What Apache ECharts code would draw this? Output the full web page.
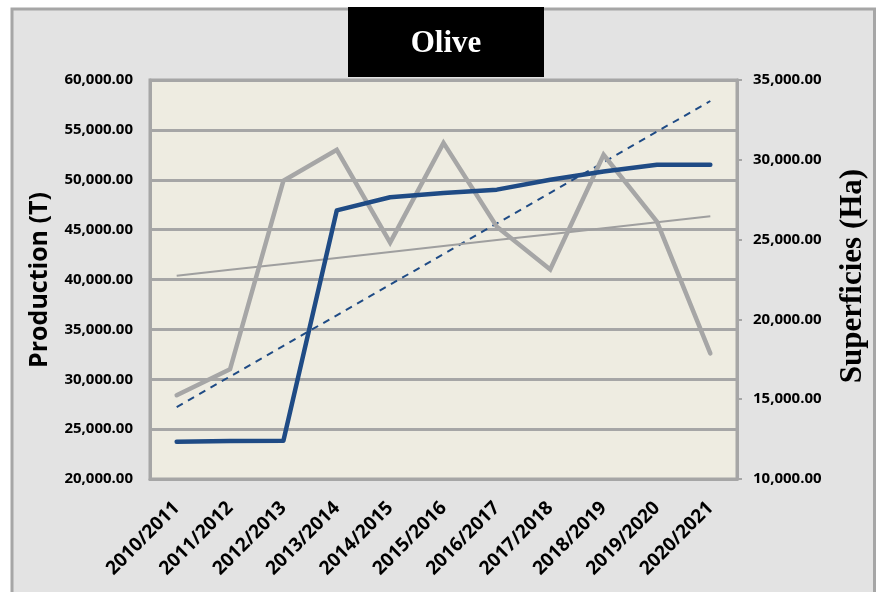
<!DOCTYPE html>
<html>
<head>
<meta charset="utf-8">
<script src="https://cdn.jsdelivr.net/npm/echarts@6/dist/echarts.min.js"></script>
<style>
  html, body { margin: 0; padding: 0; background: #ffffff; }
  #chart { width: 876px; height: 592px; }
</style>
</head>
<body>
<div id="chart"></div>
<script>
// Olive: production (tonnes, left axis) and planted area (hectares, right axis)
const seasons = ['2010/2011', '2011/2012', '2012/2013', '2013/2014', '2014/2015', '2015/2016',
                 '2016/2017', '2017/2018', '2018/2019', '2019/2020', '2020/2021'];
const production = [28400, 31000, 49900, 53000, 43700, 53700, 45300, 41000, 52500, 45800, 32600];
const superficies = [12330, 12380, 12400, 26830, 27650, 27920, 28130, 28750, 29270, 29690, 29690];

const leftTicks = { min: 20000, max: 60000, step: 5000 };
const rightTicks = { min: 10000, max: 35000, step: 5000 };

// Least-squares linear trend evaluated at each season index
function linearTrend(values) {
  const n = values.length;
  const mx = (n - 1) / 2;
  const my = values.reduce((a, b) => a + b, 0) / n;
  let sxy = 0, sxx = 0;
  values.forEach((v, i) => { sxy += (i - mx) * (v - my); sxx += (i - mx) * (i - mx); });
  const slope = sxy / sxx;
  return values.map((_, i) => my + slope * (i - mx));
}

function fmt(v) {
  const s = Math.round(v).toString().replace(/\B(?=(\d{3})+(?!\d))/g, ',');
  return s + '.00';
}

const chart = echarts.init(document.getElementById('chart'), null, { renderer: 'canvas' });

const GRAY = '#a6a6a6';
const BLUE = '#1f4b85';
const sans = '"Open Sans", "Noto Sans", sans-serif';
const serif = '"Liberation Serif", "DejaVu Serif", serif';

chart.setOption({
  animation: false,
  backgroundColor: '#ffffff',
  graphic: [
    {
      type: 'rect', z: -10, silent: true,
      shape: { x: 12, y: 9, width: 862.5, height: 620 },
      style: { fill: '#e3e3e3', stroke: '#a6a6a6', lineWidth: 3 }
    },
    {
      type: 'rect', z: 100, silent: true,
      shape: { x: 348, y: 7, width: 196, height: 70 },
      style: { fill: '#000000' }
    },
    {
      type: 'text', z: 101, silent: true,
      x: 446, y: 44,
      style: {
        text: 'Olive', fill: '#ffffff', font: 'bold 31px ' + serif,
        align: 'center', verticalAlign: 'middle'
      }
    },
    {
      type: 'text', z: 101, silent: true,
      x: 40, y: 280, rotation: Math.PI / 2,
      style: {
        text: 'Production (T)', fill: '#000000', font: 'bold 25px ' + sans,
        align: 'center', verticalAlign: 'middle'
      }
    },
    {
      type: 'text', z: 101, silent: true,
      x: 853, y: 276, rotation: Math.PI / 2,
      style: {
        text: 'Superficies (Ha)', fill: '#000000', font: 'bold 31px ' + serif,
        align: 'center', verticalAlign: 'middle'
      }
    }
  ],
  grid: {
    left: 150, top: 80, width: 587, height: 399,
    show: true, backgroundColor: '#eeece1', borderColor: GRAY, borderWidth: 3
  },
  xAxis: {
    type: 'category',
    data: seasons,
    boundaryGap: true,
    axisLine: { show: true, lineStyle: { color: GRAY, width: 3 } },
    axisTick: { show: false },
    axisLabel: {
      interval: 0, rotate: 45, margin: 26,
      color: '#000000', fontFamily: sans, fontWeight: 'bold', fontSize: 19
    }
  },
  yAxis: [
    {
      type: 'value', position: 'left',
      min: leftTicks.min, max: leftTicks.max, interval: leftTicks.step,
      axisLine: { show: true, lineStyle: { color: GRAY, width: 3 } },
      axisTick: { show: false },
      splitLine: { show: true, lineStyle: { color: GRAY, width: 3 } },
      axisLabel: {
        formatter: fmt, margin: 17,
        color: '#000000', fontFamily: sans, fontWeight: 'bold', fontSize: 15
      }
    },
    {
      type: 'value', position: 'right',
      min: rightTicks.min, max: rightTicks.max, interval: rightTicks.step,
      axisLine: { show: true, lineStyle: { color: GRAY, width: 3 } },
      axisTick: { show: true, length: 5, lineStyle: { color: GRAY, width: 2 } },
      splitLine: { show: false },
      axisLabel: {
        formatter: fmt, margin: 16,
        color: '#000000', fontFamily: sans, fontWeight: 'bold', fontSize: 15
      }
    }
  ],
  series: [
    {
      name: 'Superficies trend', type: 'line', yAxisIndex: 1,
      data: linearTrend(superficies),
      symbol: 'none', z: 3,
      lineStyle: { color: BLUE, width: 2, type: [7, 6] }
    },
    {
      name: 'Production trend', type: 'line', yAxisIndex: 0,
      data: linearTrend(production),
      symbol: 'none', z: 3,
      lineStyle: { color: '#9f9f9f', width: 2 }
    },
    {
      name: 'Production', type: 'line', yAxisIndex: 0,
      data: production,
      symbol: 'none', z: 4,
      lineStyle: { color: GRAY, width: 4.5, cap: 'round', join: 'miter' }
    },
    {
      name: 'Superficies', type: 'line', yAxisIndex: 1,
      data: superficies,
      symbol: 'none', z: 5,
      lineStyle: { color: BLUE, width: 4.5, cap: 'round', join: 'round' }
    }
  ]
});
</script>
</body>
</html>
